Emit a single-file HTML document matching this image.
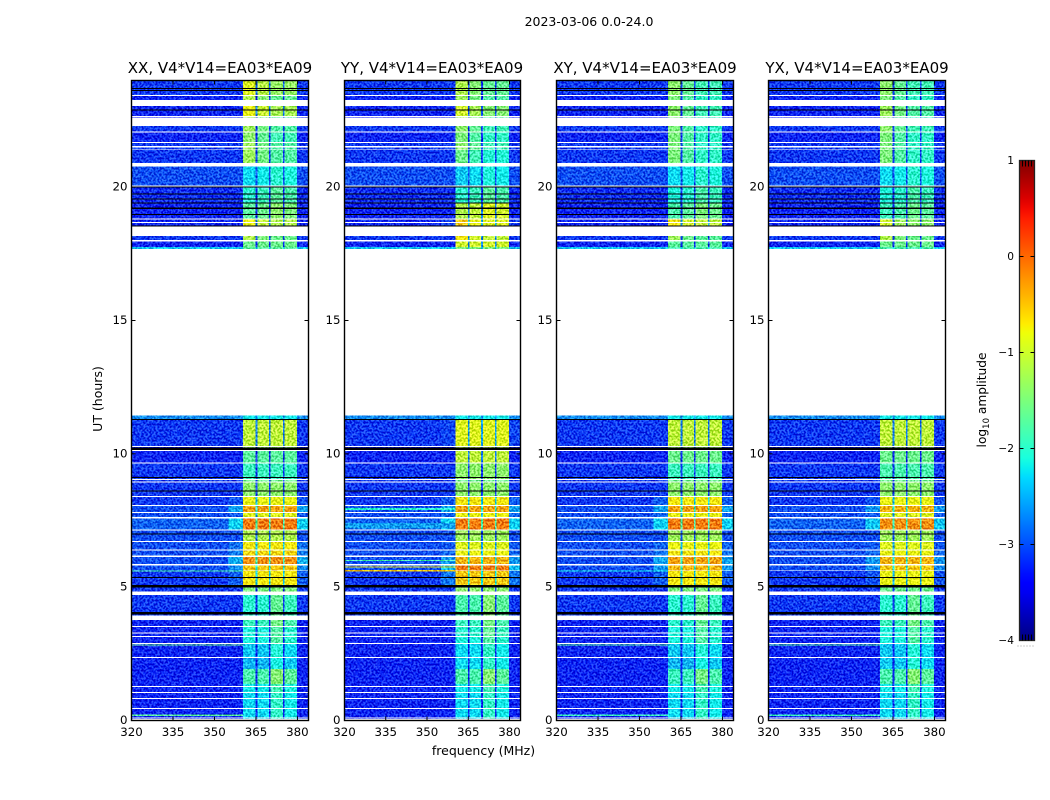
<!DOCTYPE html>
<html>
<head>
<meta charset="utf-8">
<title>2023-03-06 0.0-24.0</title>
<style>
html,body{margin:0;padding:0;background:#fff;width:1050px;height:800px;overflow:hidden}
svg{display:block}
text{font-family:"DejaVu Sans","Liberation Sans",sans-serif;fill:#000}
</style>
</head>
<body>
<svg id="figure" xmlns="http://www.w3.org/2000/svg" width="1050" height="800" viewBox="0 0 1050 800">
  <defs>
    <filter id="speckle" x="0" y="0" width="100%" height="100%" filterUnits="objectBoundingBox" color-interpolation-filters="sRGB">
      <feTurbulence type="fractalNoise" baseFrequency="0.5" numOctaves="2" seed="7" result="raw"/>
      <feColorMatrix in="raw" type="matrix" values="5 0 0 0 -2  5 0 0 0 -2  5 0 0 0 -2  0 0 0 0 1" result="gray"/>
      <feComposite in="SourceGraphic" in2="gray" operator="arithmetic" k1="0" k2="1" k3="0.36" k4="-0.18" result="mix"/>
      <feComposite in="mix" in2="SourceAlpha" operator="in"/>
    </filter>
    <linearGradient id="jet-gradient" x1="0" y1="1" x2="0" y2="0"></linearGradient>
  </defs>
  <text x="589" y="26" font-size="12.5" text-anchor="middle">2023-03-06 0.0-24.0</text>
  <text x="483.5" y="755" font-size="12.5" text-anchor="middle">frequency (MHz)</text>
  <text transform="translate(102,399) rotate(-90)" font-size="12.5" text-anchor="middle">UT (hours)</text>
  <text transform="translate(986,400) rotate(-90)" font-size="12.2" text-anchor="middle">log<tspan font-size="8.5" dy="3">10</tspan><tspan dy="-3"> amplitude</tspan></text>
  <g id="panels"></g>
  <g id="colorbar"></g>
</svg>
<script>
// Time rows (UT hours) that contain data; anything outside them stays white (no data).
const rowTop = [24,23.41,23.04,22.62,22.29, 22.05,21.65,21.48,21.39,20.78, 20.03,19.42,18.79,18.66,18.16, 17.97,17.75,11.43,11.31,10.26, 10.11,9.63,9.01,8.92,8.38, 8.04,7.78,7.57,7.13,6.70, 6.37,6.14,5.82,5.60,4.98, 4.71,3.77,3.51,3.26,3.14, 2.87,2.34,1.93,1.37,1.25, 1.03,0.81,0.43,0.08,0.02];
const rowBottom = [23.45,23.26,22.66,22.59,22.09, 21.69,21.55,21.42,20.91,20.07, 19.42,18.83,18.70,18.53,18.01, 17.75,17.68,11.31,10.30,10.14, 9.67,9.05,8.96,8.42,8.08, 7.82,7.63,7.17,6.73,6.41, 6.18,5.86,5.63,5.09,4.83, 3.94,3.55,3.30,3.17,2.90, 2.38,1.93,1.37,1.29,1.07, 0.84,0.47,0.12,0.06,0];
// log10 amplitude outside the loud band, per row.
const backgroundLevel = [-3.1,-3.2,-3.2,-3.3,-3.1, -3.2,-3.1,-3.1,-3.1,-3.0, -3.15,-3.2,-3.2,-3.2,-3.1, -3.2,-2.4,-2.7,-3.1,-3.3, -3.2,-3.1,-3.1,-3.1,-3.1, -3.0,-3.0,-2.9,-3.0,-3.0, -3.0,-3.0,-3.0,-3.1,-3.1, -3.1,-3.2,-3.2,-3.2,-3.2, -3.2,-3.2,-3.2,-3.2,-3.2, -3.2,-3.2,-3.2,-3.2,-3.2];
// log10 amplitude inside the 360-380 MHz band, per row, per polarization.
const bandXX = [-1.2,-1.5,-1.1,-1.6,-1.6, -1.7,-1.6,-1.6,-1.6,-2.2, -1.9,-1.6,-1.1,-1.1,-1.5, -1.6,-1.7,-2.2,-1.1,-1.4, -1.7,-1.9,-1.6,-1.4,-0.8, -0.3,-0.9,-0.1,-1.2,-0.7, -0.6,-0.2,-0.5,-0.7,-1.5, -1.9,-1.8,-2.0,-2.0,-2.0, -2.3,-2.4,-1.7,-2.1,-2.1, -2.2,-2.2,-2.2,-2.2,-2.2];
const bandYY = [-1.5,-1.6,-1.3,-1.6,-1.7, -1.8,-1.7,-1.7,-1.9,-2.3, -1.9,-1.1,-0.8,-0.8,-1.0, -1.0,-1.5,-2.2,-0.9,-1.2, -1.1,-1.4,-1.6,-1.4,-0.7, -0.3,-0.8,-0.1,-1.3,-0.9, -0.8,-0.4,-0.1,-0.5,-1.4, -1.7,-1.8,-1.9,-1.9,-2.0, -2.2,-2.2,-1.7,-2.1,-2.1, -2.2,-2.2,-2.2,-2.2,-2.2];
const bandXY = [-1.7,-1.8,-1.7,-1.8,-1.8, -1.8,-1.8,-1.8,-1.8,-2.2, -2.0,-1.7,-1.0,-1.0,-1.6, -1.7,-1.8,-2.2,-1.1,-1.4, -1.6,-1.9,-1.6,-1.4,-0.7, -0.3,-0.8,-0.1,-1.3,-0.8, -0.7,-0.3,-0.4,-0.7,-1.5, -1.9,-1.9,-2.0,-2.0,-2.0, -2.3,-2.4,-1.8,-2.1,-2.1, -2.2,-2.2,-2.2,-2.2,-2.2];
const bandYX = [-1.7,-1.8,-1.6,-1.8,-1.7, -1.8,-1.8,-1.8,-1.8,-2.2, -2.0,-1.8,-1.3,-1.3,-1.5, -1.6,-1.8,-2.2,-1.1,-1.4, -1.6,-1.8,-1.6,-1.4,-0.8, -0.4,-0.9,-0.2,-1.3,-0.9, -0.8,-0.4,-0.5,-0.8,-1.6, -1.9,-1.8,-2.0,-2.0,-2.0, -2.3,-2.3,-1.7,-2.1,-2.1, -2.2,-2.2,-2.2,-2.2,-2.2];
// Sub-band brightness offsets (four sub-bands) by time section; a section starts at sectionFloor and runs upward.
const sectionFloor = [20.9,18.8,18.0,4.8,0];
const sectionOffsets = [[0.3,0.05,-0.15,-0.15],[-0.1,0,0.2,0.1],[0.3,0,-0.1,-0.1],[0,0,0,0],[-0.1,-0.1,0.25,0]];
// Frequency channel edges (MHz) and what each column holds.
const channelEdges = [320,355,360.4,364.9,365.5,369.7,370.3,374.7,375.3,379.8,384];
const channelKind = ['background','wing',0,'gap',1,'gap',2,'gap',3,'wing'];
// All-zero integrations, drawn black: [lower hour, upper hour].
const zeroRanges = [[23.68,23.71],[23.60,23.64],[22.88,22.91],[19.98,20.02],[19.73,19.77],[19.55,19.58],[19.38,19.42],[19.19,19.23],[18.95,18.99],[18.53,18.56],[11.26,11.31],[10.15,10.23],[9.09,9.13],[8.59,8.63],[6.98,7.01],[5.34,5.38],[4.98,5.09],[3.98,4.06]];
// Narrow-band bright lines left of the band: [panel index, lower hour, upper hour, level].
const brightLines = [[0,2.81,2.85,-1.6],[0,0.17,0.23,-1.7],[0,5.59,5.63,-1.8],[2,2.81,2.85,-1.7],[2,0.17,0.23,-1.9],[2,5.59,5.63,-2.2],[3,2.81,2.85,-1.7],[3,0.17,0.23,-1.9],[1,5.98,6.02,-1.8],[1,5.74,5.77,-0.7],[1,5.59,5.64,-0.5],[1,7.20,7.40,-2.6],[1,7.90,7.96,-2.0]];
const panelTitles = ['XX, V4*V14=EA03*EA09','YY, V4*V14=EA03*EA09','XY, V4*V14=EA03*EA09','YX, V4*V14=EA03*EA09'];
const panelBands = [bandXX,bandYY,bandXY,bandYX];
const freqTicks = [320,335,350,365,380];
const hourTicks = [0,5,10,15,20];
const colorbarTicks = [-4,-3,-2,-1,0,1];
const colorbarMinorTicks = [-3.97,-3.94,-3.91,-3.88,0.88,0.91,0.94,0.97];

const SVGNS = 'http://www.w3.org/2000/svg';
const frameLeft = [131.5,344.5,556.5,768.5];
const frameWidth = [177,176,177,177];
const titleCenter = [220,432,645,857];
const frameTop = 80.5, frameBottom = 720.5;
const FREQ_MIN = 320, FREQ_MAX = 384, HOUR_MAX = 24, LEVEL_MIN = -4, LEVEL_MAX = 1;

function xScale(panel, freq){ return frameLeft[panel] + (freq - FREQ_MIN) / (FREQ_MAX - FREQ_MIN) * frameWidth[panel]; }
function yScale(hour){ return frameBottom - hour / HOUR_MAX * (frameBottom - frameTop); }

function interp(points, t){
  for (let i = 1; i < points.length; i++) {
    if (t <= points[i][0]) {
      const a = points[i-1], b = points[i];
      return a[1] + (b[1]-a[1]) * (t-a[0]) / (b[0]-a[0]);
    }
  }
  return points[points.length-1][1];
}
const jetR = [[0,0],[0.35,0],[0.66,1],[0.89,1],[1,0.5]];
const jetG = [[0,0],[0.125,0],[0.375,1],[0.64,1],[0.91,0],[1,0]];
const jetB = [[0,0.5],[0.11,1],[0.34,1],[0.65,0],[1,0]];
function jet(level){
  const t = Math.max(0, Math.min(1, (level - LEVEL_MIN) / (LEVEL_MAX - LEVEL_MIN)));
  return 'rgb(' + Math.round(interp(jetR,t)*255) + ',' + Math.round(interp(jetG,t)*255) + ',' + Math.round(interp(jetB,t)*255) + ')';
}
function make(tag, attrs, parent){
  const el = document.createElementNS(SVGNS, tag);
  for (const k in attrs) el.setAttribute(k, attrs[k]);
  parent.appendChild(el);
  return el;
}
function sectionIndex(hour){
  for (let i = 0; i < sectionFloor.length; i++) if (hour >= sectionFloor[i]) return i;
  return sectionFloor.length - 1;
}
function cellLevel(panel, row, kind){
  const bg = backgroundLevel[row], band = panelBands[panel][row];
  if (kind === 'background') return bg;
  if (kind === 'wing') return bg + Math.max(0, band + 1) * 0.6;
  if (kind === 'gap') return Math.max(bg, band - 1.7);
  return band + sectionOffsets[sectionIndex(rowBottom[row])][kind];
}

const panelsRoot = document.getElementById('panels');
panelTitles.forEach(function(title, p){
  const panel = make('g', {}, panelsRoot);
  
  

  const cells = make('g', {filter:'url(#speckle)', 'shape-rendering':'crispEdges'}, panel);
  
  
  rowTop.forEach(function(top, r){
    channelKind.forEach(function(kind, c){
      const x0 = xScale(p, channelEdges[c]), x1 = xScale(p, channelEdges[c+1]);
      const y0 = yScale(top), y1 = yScale(rowBottom[r]);
      const cell = make('rect', {x:x0, y:y0, width:x1-x0, height:y1-y0, fill:jet(cellLevel(p, r, kind))}, cells);
      
      
    });
  });
  brightLines.filter(function(b){ return b[0] === p; }).forEach(function(b){
    const x0 = xScale(p, channelEdges[0]), x1 = xScale(p, channelEdges[2]);
    const line = make('rect', {x:x0, y:yScale(b[2]), width:x1-x0, height:Math.max(1, yScale(b[1])-yScale(b[2])), fill:jet(b[3])}, cells);
    
    
  });

  const zeros = make('g', {'shape-rendering':'crispEdges'}, panel);
  
  
  zeroRanges.forEach(function(z){
    const bar = make('rect', {x:frameLeft[p], y:yScale(z[1]), width:frameWidth[p], height:Math.max(1, yScale(z[0])-yScale(z[1])), fill:'#000'}, zeros);
    
    
  });

  const frame = make('rect', {x:frameLeft[p], y:frameTop, width:frameWidth[p], height:frameBottom-frameTop, fill:'none', stroke:'#000', 'stroke-width':1.4}, panel);
  
  

  const ptitle = make('text', {x:titleCenter[p], y:73, 'font-size':15, 'text-anchor':'middle'}, panel);
  ptitle.textContent = title;
  
  

  freqTicks.forEach(function(f){
    const x = xScale(p, f);
    const t1 = make('line', {x1:x, x2:x, y1:frameBottom, y2:frameBottom-4, stroke:'#000'}, panel);
    
    
    const t2 = make('line', {x1:x, x2:x, y1:frameTop, y2:frameTop+4, stroke:'#000'}, panel);
    
    
    const label = make('text', {x:x, y:736, 'font-size':11.8, 'text-anchor':'middle'}, panel);
    label.textContent = f;
    
    
  });
  hourTicks.forEach(function(h){
    const y = yScale(h);
    const t1 = make('line', {x1:frameLeft[p], x2:frameLeft[p]+4, y1:y, y2:y, stroke:'#000'}, panel);
    
    
    const t2 = make('line', {x1:frameLeft[p]+frameWidth[p], x2:frameLeft[p]+frameWidth[p]-4, y1:y, y2:y, stroke:'#000'}, panel);
    
    
    const label = make('text', {x:frameLeft[p]-4, y:y+3.5, 'font-size':11.8, 'text-anchor':'end'}, panel);
    label.textContent = h;
    
    
  });
});

// Colorbar
const cbLeft = 1019.5, cbRight = 1034.5, cbTop = 160.5, cbBottom = 640.5;
function cbY(level){ return cbBottom - (level - LEVEL_MIN) / (LEVEL_MAX - LEVEL_MIN) * (cbBottom - cbTop); }
const gradient = document.getElementById('jet-gradient');
for (let i = 0; i <= 50; i++) {
  const stop = make('stop', {offset:i/50, 'stop-color':jet(LEVEL_MIN + (LEVEL_MAX-LEVEL_MIN)*i/50)}, gradient);
}
const cbRoot = document.getElementById('colorbar');
const cbFill = make('rect', {x:cbLeft, y:cbTop, width:cbRight-cbLeft, height:cbBottom-cbTop, fill:'url(#jet-gradient)', stroke:'#222', 'stroke-width':1.3}, cbRoot);


colorbarTicks.forEach(function(level){
  const y = cbY(level);
  if (level > LEVEL_MIN && level < LEVEL_MAX) {
    const t1 = make('line', {x1:cbLeft, x2:cbLeft+4, y1:y, y2:y, stroke:'#000'}, cbRoot);
    
    
    const t2 = make('line', {x1:cbRight, x2:cbRight-4, y1:y, y2:y, stroke:'#000'}, cbRoot);
    
    
  }
  const label = make('text', {x:1014, y:y+3.5, 'font-size':10.6, 'text-anchor':'end'}, cbRoot);
  label.textContent = level < 0 ? '\u2212' + Math.abs(level) : String(level);
  
  
});
colorbarMinorTicks.forEach(function(frac, i){
  const top = frac > 0;
  const x = cbLeft + 3 + (i % 4) * 3;
  const y0 = top ? cbTop : cbBottom;
  const y1 = top ? cbTop + 6 : cbBottom - 6;
  const tick = make('line', {x1:x, x2:x, y1:y0, y2:y1, stroke:'#000'}, cbRoot);
  
  
});
const dots = make('line', {x1:1017.5, x2:1035, y1:646, y2:646, stroke:'#999', 'stroke-width':1, 'stroke-dasharray':'1 2'}, cbRoot);


</script>
</body>
</html>
